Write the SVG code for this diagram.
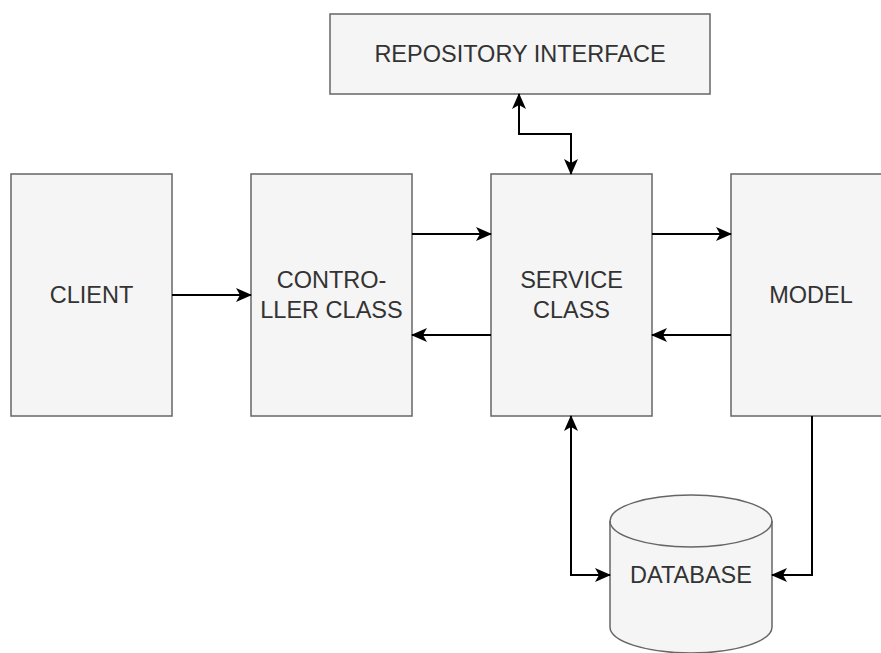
<svg xmlns="http://www.w3.org/2000/svg" width="881" height="653" viewBox="0 0 881 653">
<style>
.box{fill:#f5f5f5;stroke:#666666;stroke-width:1.5}
.lbl{font-family:"Liberation Sans",Arial,sans-serif;font-size:23.5px;fill:#333333;text-anchor:middle}
.edge{fill:none;stroke:#000000;stroke-width:2}
</style>
<defs>
<marker id="arr" viewBox="0 0 16 16" refX="15" refY="8" markerWidth="16" markerHeight="16" markerUnits="userSpaceOnUse" orient="auto-start-reverse">
<path d="M0,1 L16,8 L0,15 L4,8 Z" fill="#000000"/>
</marker>
</defs>
<rect width="881" height="653" fill="#ffffff"/>
<g id="repository">
<rect class="box" x="330" y="14" width="380" height="80"/>
<text class="lbl" x="520" y="62">REPOSITORY INTERFACE</text>
</g>
<g id="client">
<rect class="box" x="11" y="174" width="161" height="242"/>
<text class="lbl" x="91.5" y="303">CLIENT</text>
</g>
<g id="controller">
<rect class="box" x="251" y="174" width="161" height="242"/>
<text class="lbl" x="331.5" y="288">CONTRO-</text>
<text class="lbl" x="331.5" y="318">LLER CLASS</text>
</g>
<g id="service">
<rect class="box" x="491" y="174" width="161" height="242"/>
<text class="lbl" x="571.5" y="288">SERVICE</text>
<text class="lbl" x="571.5" y="318">CLASS</text>
</g>
<g id="model">
<rect class="box" x="731" y="174" width="161" height="242"/>
<text class="lbl" x="811" y="303">MODEL</text>
</g>
<g id="database">
<path class="box" d="M610,521 A81,26 0 0 1 772,521 V627 A81,26 0 0 1 610,627 Z"/>
<path class="box" style="fill:none" d="M610,521 A81,26 0 0 0 772,521"/>
<text class="lbl" x="691" y="583">DATABASE</text>
</g>
<g id="connectors">
<path class="edge" d="M172,295 H251" marker-end="url(#arr)"/>
<path class="edge" d="M412,234 H491" marker-end="url(#arr)"/>
<path class="edge" d="M491,335 H412" marker-end="url(#arr)"/>
<path class="edge" d="M652,234 H731" marker-end="url(#arr)"/>
<path class="edge" d="M731,335 H652" marker-end="url(#arr)"/>
<path class="edge" d="M519,94 V134 H571 V174" marker-start="url(#arr)" marker-end="url(#arr)"/>
<path class="edge" d="M571,416 V575 H610" marker-start="url(#arr)" marker-end="url(#arr)"/>
<path class="edge" d="M812,416 V575 H772" marker-end="url(#arr)"/>
</g>
</svg>
